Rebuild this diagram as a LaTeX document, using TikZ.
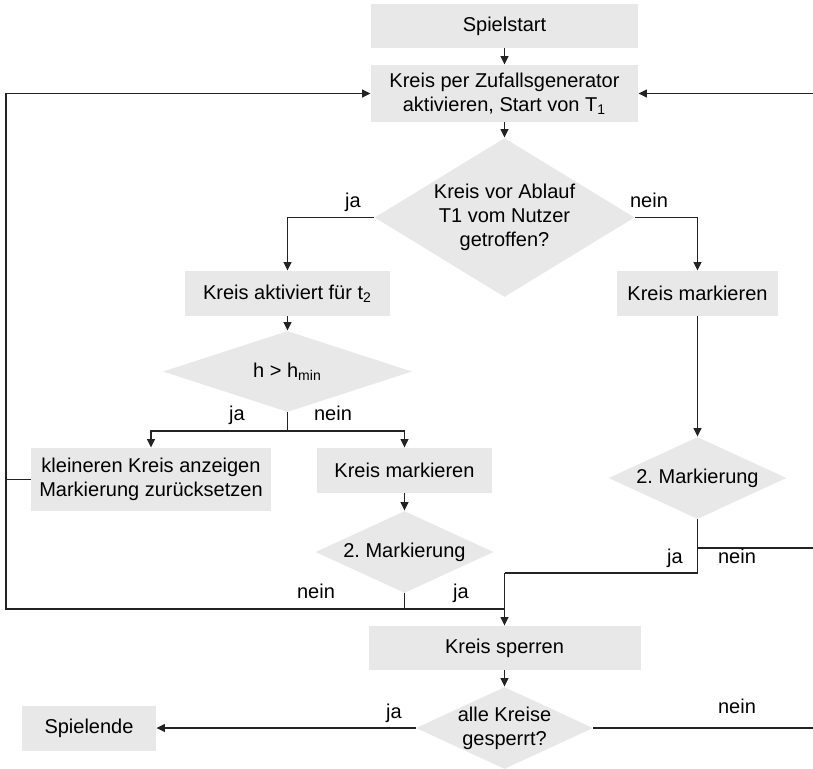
\documentclass[tikz,border=0pt]{standalone}
\usepackage{fontspec}
\setmainfont{Liberation Sans}
\usepackage{tikz}
\usetikzlibrary{arrows.meta, shapes.geometric}
\definecolor{boxgray}{RGB}{232,232,232}
\definecolor{linegray}{RGB}{35,35,35}
\frenchspacing

\tikzset{
  box/.style={rectangle, fill=boxgray, inner sep=0pt, align=center, font=\fontsize{10}{12}\selectfont},
  decision/.style={diamond, fill=boxgray, inner sep=-3pt, align=center, font=\fontsize{10}{12}\selectfont},
  line/.style={draw=linegray, line width=0.8pt},
  arrow/.style={line, -{Triangle[length=4.2pt, width=3.8pt]}},
  lbl/.style={anchor=base, inner sep=0pt, font=\fontsize{10}{12}\selectfont}
}

\begin{document}
\begin{tikzpicture}[x=0.5pt, y=-0.5pt]
    \useasboundingbox (0,0) rectangle (813,768);

    % Start und Aktivierung
    \node[box, minimum width=133.5pt, minimum height=22pt] (start) at (504.5,26) {Spielstart};
    \node[box, minimum width=133.5pt, minimum height=28.5pt] (activate) at (504.5,93.5)
        {Kreis per Zufallsgenerator\\aktivieren, Start von T\textsubscript{1}};
    \node[decision, aspect=1.635, minimum width=130pt, minimum height=79.5pt] (hit) at (504.5,217.5)
        {Kreis vor Ablauf\\T1 vom Nutzer\\getroffen?};

    % Zweig: getroffen
    \node[box, minimum width=102.5pt, minimum height=22.5pt] (active) at (287.5,293.5) {Kreis aktiviert f\"ur t\textsubscript{2}};
    \node[decision, aspect=3.07, minimum width=124.5pt, minimum height=40.5pt] (hmin) at (287.5,371.5) {h > h\textsubscript{min}};
    \node[box, minimum width=120pt, minimum height=31.5pt] (smaller) at (151,479.5)
        {kleineren Kreis anzeigen\\Markierung zur\"ucksetzen};
    \node[box, minimum width=87.5pt, minimum height=22.5pt] (markL) at (404.5,470.5) {Kreis markieren};
    \node[decision, aspect=2.17, minimum width=89pt, minimum height=41pt] (secondL) at (404.5,552) {2. Markierung};

    % Zweig: nicht getroffen
    \node[box, minimum width=80.5pt, minimum height=22.5pt] (markR) at (697.5,293.5) {Kreis markieren};
    \node[decision, aspect=2.17, minimum width=89pt, minimum height=41pt] (secondR) at (697.5,478) {2. Markierung};

    % Sperren und Ende
    \node[box, minimum width=136pt, minimum height=22pt] (lock) at (504.5,648) {Kreis sperren};
    \node[decision, aspect=2.16, minimum width=88.5pt, minimum height=41pt] (all) at (504.5,728) {alle Kreise\\gesperrt?};
    \node[box, minimum width=67pt, minimum height=22.5pt] (end) at (89,728) {Spielende};

    % Hilfspunkte
    \coordinate (loopL) at (6,609);
    \coordinate (loopR) at (813,93.5);
    \coordinate (hsplit) at (287.5,431);
    \coordinate (mergeR) at (504.5,573);
    \coordinate (neinR) at (813,548);

    % Verbindungen
    \draw[arrow] (start) -- (activate);
    \draw[arrow] (activate) -- (hit);
    \draw[arrow] (hit.west) -| (active);
    \draw[arrow] (hit.east) -| (markR);
    \draw[arrow] (active) -- (hmin);
    \draw[line] (hmin.south) -- (hsplit);
    \draw[arrow] (hsplit) -| (smaller);
    \draw[arrow] (hsplit) -| (markL);
    \draw[arrow] (markL) -- (secondL);
    \draw[arrow] (secondL.south) |- (loopL) |- (activate.west);
    \draw[line] (smaller.west) -- (smaller.west -| loopL);
    \draw[line] (secondL.south) |- (mergeR |- loopL);
    \draw[arrow] (markR) -- (secondR);
    \draw[line] (secondR.south) |- (mergeR);
    \draw[line] (neinR -| secondR) -- (neinR);
    \draw[arrow] (mergeR) -- (lock);
    \draw[arrow] (loopR) -- (activate.east);
    \draw[arrow] (lock) -- (all);
    \draw[arrow] (all) -- (end);
    \draw[line] (all.east) -- (all.east -| loopR);

    % Beschriftungen
    \node[lbl] (ja1) at (353,207) {ja};
    \node[lbl] (nein1) at (649,207) {nein};
    \node[lbl] (ja2) at (237,420) {ja};
    \node[lbl] (nein2) at (333,420) {nein};
    \node[lbl] (nein3) at (316,598) {nein};
    \node[lbl] (ja3) at (461,598) {ja};
    \node[lbl] (ja4) at (675,563) {ja};
    \node[lbl] (nein4) at (737,563) {nein};
    \node[lbl] (ja5) at (394,718) {ja};
    \node[lbl] (nein5) at (737,713) {nein};
\end{tikzpicture}
\end{document}
